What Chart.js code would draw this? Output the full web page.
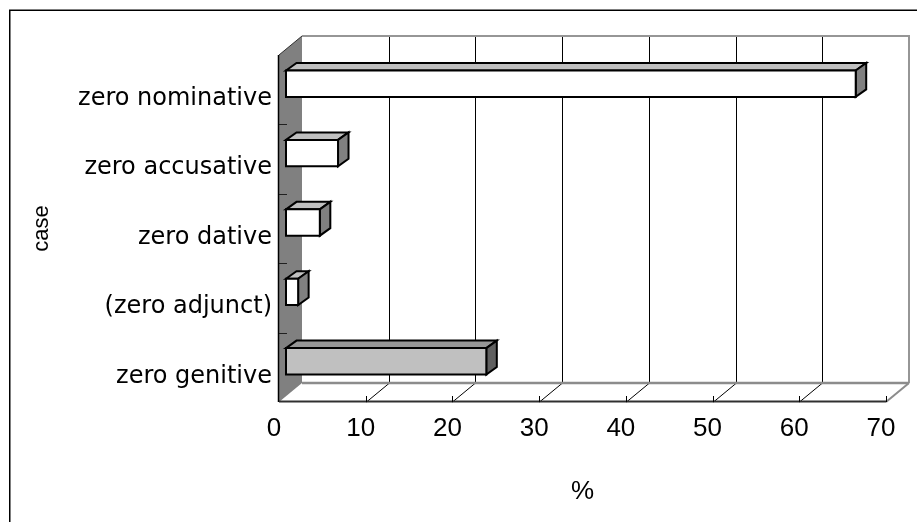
<!DOCTYPE html>
<html>
<head>
<meta charset="utf-8">
<script src="https://cdn.jsdelivr.net/npm/chart.js@4/dist/chart.umd.min.js"></script>
<style>
  html, body { margin: 0; padding: 0; background: #ffffff; }
  #wrap { width: 917px; height: 522px; }
</style>
</head>
<body>
<div id="wrap"><canvas id="c" width="917" height="522"></canvas></div>
<script>
// Share of each zero-marked case, in percent
const categories = ['zero nominative', 'zero accusative', 'zero dative', '(zero adjunct)', 'zero genitive'];
const shares = [65.7, 6.0, 3.9, 1.4, 23.1];
const axisMin = 0;
const axisMax = 70;
const axisStep = 10;

// Face shading of each box: front, top, right side
const frontColors = ['#ffffff', '#ffffff', '#ffffff', '#ffffff', '#c0c0c0'];
const topColors   = ['#c0c0c0', '#c0c0c0', '#c0c0c0', '#c0c0c0', '#969696'];
const sideColors  = ['#808080', '#808080', '#808080', '#808080', '#606060'];

// Depth of the walls and of the boxes (oblique projection)
const WALL_DX = 23, WALL_DY = -19;
const BAR_OX = 7, BAR_OY = -6;
const BAR_DX = 10.5, BAR_DY = -7.5;

function poly(ctx, pts, fill, stroke, lw) {
  ctx.beginPath();
  ctx.moveTo(pts[0][0], pts[0][1]);
  for (let i = 1; i < pts.length; i++) ctx.lineTo(pts[i][0], pts[i][1]);
  ctx.closePath();
  if (fill) { ctx.fillStyle = fill; ctx.fill(); }
  if (stroke) { ctx.strokeStyle = stroke; ctx.lineWidth = lw; ctx.stroke(); }
}

function line(ctx, x1, y1, x2, y2, color, lw) {
  ctx.beginPath();
  ctx.moveTo(x1, y1);
  ctx.lineTo(x2, y2);
  ctx.strokeStyle = color;
  ctx.lineWidth = lw;
  ctx.stroke();
}

const box3d = {
  id: 'box3d',
  beforeDraw(chart) {
    const ctx = chart.ctx;
    ctx.save();
    ctx.fillStyle = '#ffffff';
    ctx.fillRect(0, 0, chart.width, chart.height);
    ctx.restore();
  },
  beforeDatasetsDraw(chart) {
    const ctx = chart.ctx;
    const { left: L, right: R, top: T, bottom: B } = chart.chartArea;
    const xs = chart.scales.x;
    const ys = chart.scales.y;
    ctx.save();
    ctx.lineCap = 'butt';

    // back wall
    poly(ctx, [[L + WALL_DX, T + WALL_DY], [R + WALL_DX, T + WALL_DY], [R + WALL_DX, B + WALL_DY], [L + WALL_DX, B + WALL_DY]], '#ffffff', null, 0);
    // floor
    poly(ctx, [[L, B], [R, B], [R + WALL_DX, B + WALL_DY], [L + WALL_DX, B + WALL_DY]], '#ffffff', null, 0);

    // grid lines on the back wall and across the floor
    for (let v = axisMin + axisStep; v < axisMax; v += axisStep) {
      const px = Math.round(xs.getPixelForValue(v)) + 0.5;
      line(ctx, px + WALL_DX, T + WALL_DY, px + WALL_DX, B + WALL_DY, '#000000', 1);
      line(ctx, px, B, px + WALL_DX, B + WALL_DY, '#000000', 1);
    }

    // wall edges
    line(ctx, L + WALL_DX, T + WALL_DY, R + WALL_DX + 1, T + WALL_DY, '#969696', 2);
    line(ctx, R + WALL_DX, T + WALL_DY, R + WALL_DX, B + WALL_DY, '#969696', 2);
    line(ctx, L + WALL_DX, B + WALL_DY, R + WALL_DX, B + WALL_DY, '#8c8c8c', 2.5);
    line(ctx, R, B, R + WALL_DX, B + WALL_DY, '#8c8c8c', 2);

    // side wall
    poly(ctx, [[L, T], [L, B], [L + WALL_DX, B + WALL_DY], [L + WALL_DX, T + WALL_DY]], '#808080', null, 0);
    line(ctx, L, T, L + WALL_DX, T + WALL_DY, '#303030', 1);
    line(ctx, L - 0.5, T, L - 0.5, B, '#000000', 1.5);

    // front edge of the floor and its tick marks
    line(ctx, L, B - 0.5, R, B - 0.5, '#303030', 2);
    for (let v = axisMin + axisStep; v <= axisMax; v += axisStep) {
      const px = Math.round(xs.getPixelForValue(v)) + 0.5;
      line(ctx, px, B, px, B - 6, '#000000', 1);
    }

    // category separators on the side wall
    const n = ys.ticks.length;
    const band = (B - T) / n;
    for (let i = 1; i < n; i++) {
      const py = Math.round(T + band * i) + 0.5;
      line(ctx, L, py, L + 8, py, '#202020', 1);
    }
    ctx.restore();
  },
  beforeDatasetDraw() {
    return false;
  },
  afterDatasetsDraw(chart) {
    const ctx = chart.ctx;
    const meta = chart.getDatasetMeta(0);
    ctx.save();
    ctx.lineJoin = 'miter';
    meta.data.forEach((el, i) => {
      const p = el.getProps(['x', 'y', 'base', 'height'], true);
      const x0 = p.base + BAR_OX;
      const x1 = p.x + BAR_OX;
      const y0 = p.y - p.height / 2 + BAR_OY;
      const y1 = p.y + p.height / 2 + BAR_OY;
      poly(ctx, [[x0, y0], [x0 + BAR_DX, y0 + BAR_DY], [x1 + BAR_DX, y0 + BAR_DY], [x1, y0]], topColors[i], '#000000', 2);
      poly(ctx, [[x1, y0], [x1 + BAR_DX, y0 + BAR_DY], [x1 + BAR_DX, y1 + BAR_DY], [x1, y1]], sideColors[i], '#000000', 2);
      poly(ctx, [[x0, y0], [x1, y0], [x1, y1], [x0, y1]], frontColors[i], '#000000', 2);
    });
    ctx.restore();
  },
  afterDraw(chart) {
    const ctx = chart.ctx;
    ctx.save();
    ctx.strokeStyle = '#000000';
    ctx.lineWidth = 1.5;
    ctx.strokeRect(9.75, 10.25, 1200, 1200);
    ctx.restore();
  }
};

new Chart(document.getElementById('c'), {
  type: 'bar',
  data: {
    labels: categories,
    datasets: [{
      label: '%',
      data: shares,
      backgroundColor: frontColors,
      borderColor: '#000000',
      borderWidth: 2,
      barPercentage: 0.38,
      categoryPercentage: 1
    }]
  },
  options: {
    indexAxis: 'y',
    responsive: false,
    animation: false,
    devicePixelRatio: 1,
    layout: { padding: { top: 55, right: 31, left: 0, bottom: 0 } },
    plugins: {
      legend: { display: false },
      tooltip: { enabled: false }
    },
    scales: {
      x: {
        type: 'linear',
        min: axisMin,
        max: axisMax,
        grid: { display: false, drawTicks: false },
        border: { display: false },
        ticks: {
          stepSize: axisStep,
          color: '#000000',
          padding: 11,
          labelOffset: -5,
          font: { family: 'Liberation Sans', size: 26 }
        },
        title: {
          display: true,
          text: '%',
          color: '#000000',
          padding: { top: 0, bottom: 15 },
          font: { family: 'Liberation Sans Narrow, Liberation Sans', size: 26 }
        },
        afterFit(scale) { scale.height = 120; }
      },
      y: {
        type: 'category',
        grid: { display: false, drawTicks: false },
        border: { display: false },
        ticks: {
          color: '#000000',
          padding: 7,
          labelOffset: 9,
          font: { family: 'DejaVu Sans', size: 24 }
        },
        title: {
          display: true,
          text: 'case',
          color: '#000000',
          padding: { top: 29, bottom: 0 },
          font: { family: 'Liberation Sans', size: 22 }
        },
        afterFit(scale) { scale.width = 279; }
      }
    }
  },
  plugins: [box3d]
});
</script>
</body>
</html>
